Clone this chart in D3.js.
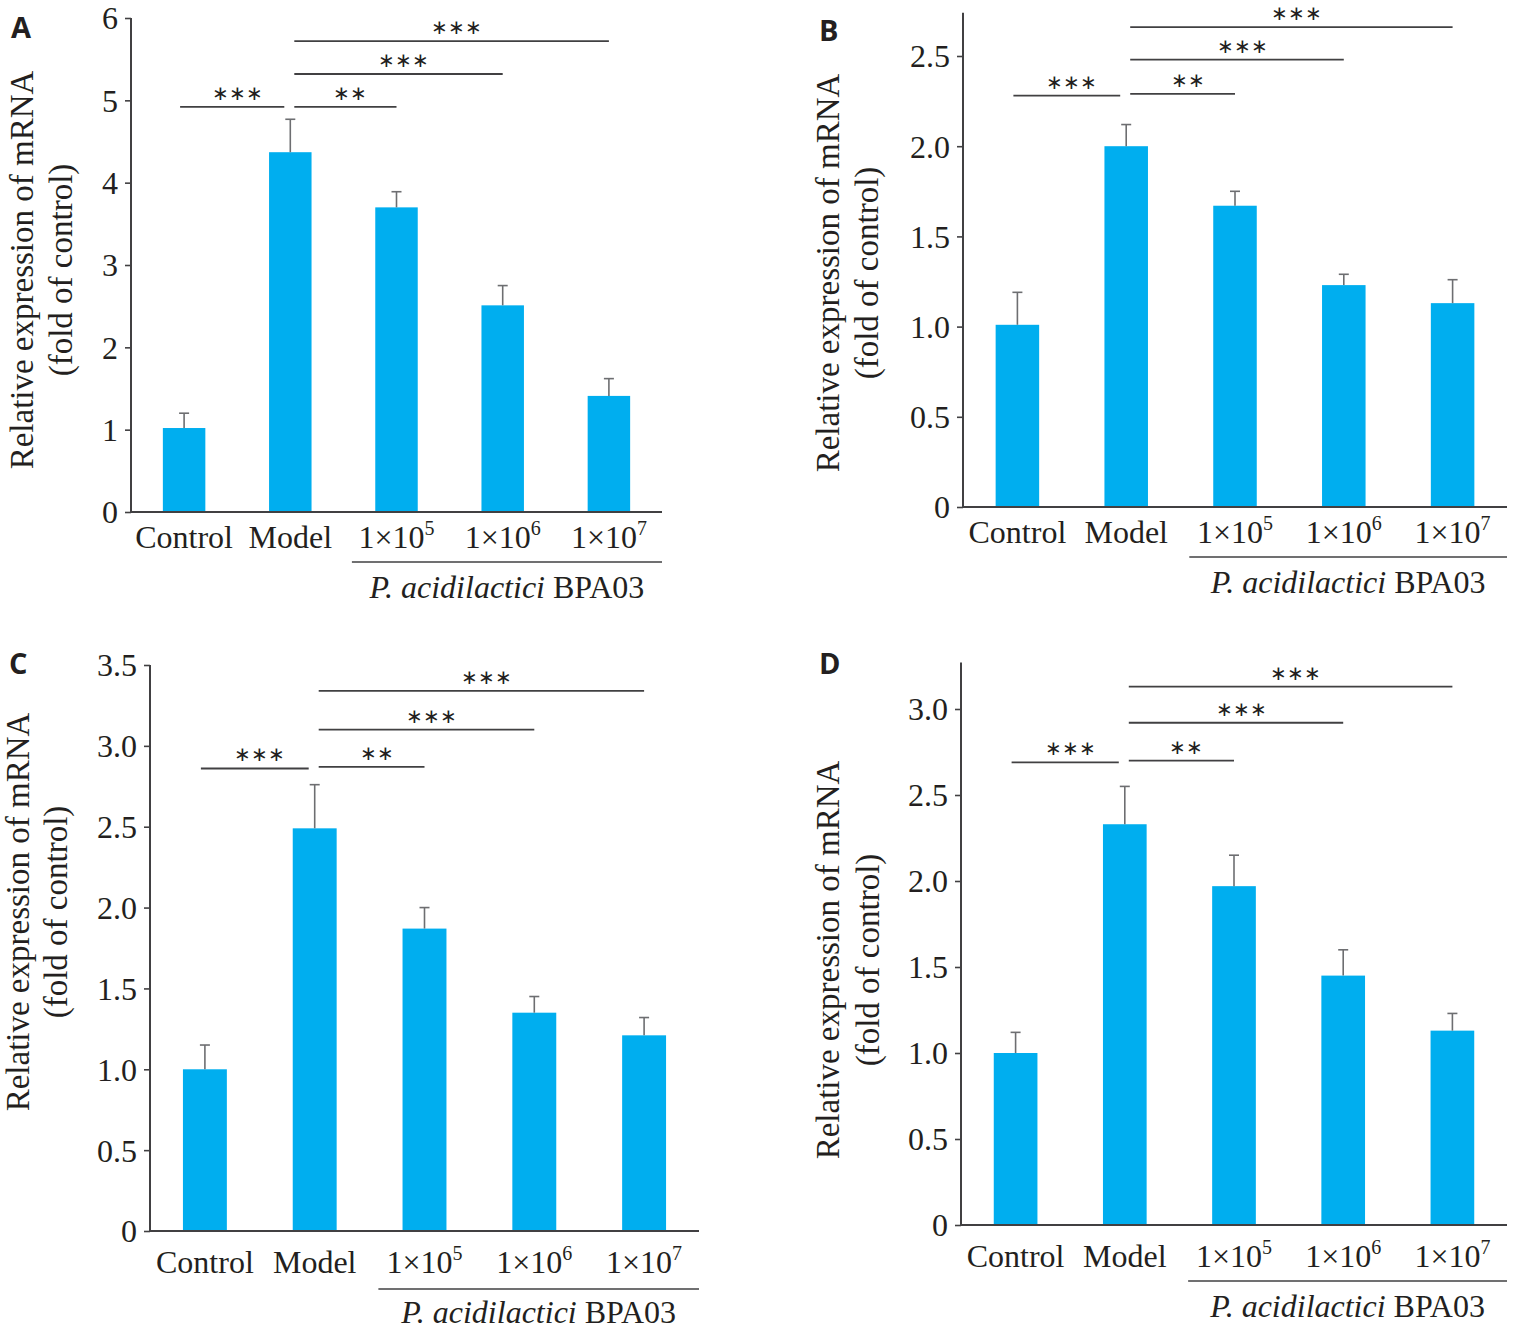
<!DOCTYPE html>
<html>
<head>
<meta charset="utf-8">
<script src="https://cdn.jsdelivr.net/npm/d3@7"></script>
<style>
  body { margin: 0; background: #fff; }
  svg text { font-family: "Liberation Serif", "Times New Roman", serif; fill: #231f20; }
</style>
</head>
<body>
<div id="fig"></div>
<script>
// categories on the x axis (base text + superscript exponent)
var catBase = ["Control", "Model", "1×10", "1×10", "1×10"];
var catExp  = ["", "", "5", "6", "7"];
var groupLabel = "BPA03";
var groupItalic = "P. acidilactici";

// bar means and SD
var meansA = [1.02, 4.37, 3.70, 2.51, 1.41];
var errA   = [0.18, 0.40, 0.19, 0.24, 0.21];
var meansB = [1.01, 2.00, 1.67, 1.23, 1.13];
var errB   = [0.18, 0.12, 0.08, 0.06, 0.13];
var meansC = [1.00, 2.49, 1.87, 1.35, 1.21];
var errC   = [0.15, 0.27, 0.13, 0.10, 0.11];
var meansD = [1.00, 2.33, 1.97, 1.45, 1.13];
var errD   = [0.12, 0.22, 0.18, 0.15, 0.10];

// y ticks
var ticksA = [0, 1, 2, 3, 4, 5, 6];
var ticksB = [0, 0.5, 1.0, 1.5, 2.0, 2.5];
var ticksC = [0, 0.5, 1.0, 1.5, 2.0, 2.5, 3.0, 3.5];
var ticksD = [0, 0.5, 1.0, 1.5, 2.0, 2.5, 3.0];

// significance brackets: [from, to, stars, height]
var sigA = [[0, 1, "***", 4.92], [1, 2, "**", 4.92], [1, 3, "***", 5.32], [1, 4, "***", 5.72]];
var sigB = [[0, 1, "***", 2.28], [1, 2, "**", 2.29], [1, 3, "***", 2.48], [1, 4, "***", 2.66]];
var sigC = [[0, 1, "***", 2.86], [1, 2, "**", 2.87], [1, 3, "***", 3.10], [1, 4, "***", 3.34]];
var sigD = [[0, 1, "***", 2.69], [1, 2, "**", 2.70], [1, 3, "***", 2.92], [1, 4, "***", 3.13]];

var yTitle1 = "Relative expression of mRNA";
var yTitle2 = "(fold of control)";

// panel placement
var panels = [
  {id: "A", means: meansA, err: errA, ticks: ticksA, sig: sigA, fmt: d3.format("d"),
   x0: 131, x1: 662, y0: 512, yMaxPx: 18, yMax: 6, axisTop: 6,
   lab: [11, 38], labDy: 36, lineDy: 50, grpDy: 86, t1x: 33, t2x: 72, tcy: 270},
  {id: "B", means: meansB, err: errB, ticks: ticksB, sig: sigB, fmt: d3.format(".1f"),
   x0: 963, x1: 1507, y0: 507, yMaxPx: 56, yMax: 2.5, axisTop: 2.74,
   lab: [819, 41], labDy: 36, lineDy: 50, grpDy: 86, t1x: 839, t2x: 878, tcy: 273},
  {id: "C", means: meansC, err: errC, ticks: ticksC, sig: sigC, fmt: d3.format(".1f"),
   x0: 150, x1: 699, y0: 1231, yMaxPx: 665, yMax: 3.5, axisTop: 3.5,
   lab: [9, 674], labDy: 42, lineDy: 58, grpDy: 92, t1x: 29, t2x: 67, tcy: 912},
  {id: "D", means: meansD, err: errD, ticks: ticksD, sig: sigD, fmt: d3.format(".1f"),
   x0: 961, x1: 1507, y0: 1225, yMaxPx: 709, yMax: 3.0, axisTop: 3.27,
   lab: [819, 674], labDy: 42, lineDy: 56, grpDy: 92, t1x: 839, t2x: 879, tcy: 960}
];

var svg = d3.select("#fig").append("svg")
  .attr("width", 1518).attr("height", 1330);

panels.forEach(function(p) {
  var g = svg.append("g");
  var idx = d3.range(catBase.length);

  var x = d3.scaleBand().domain(idx).range([p.x0, p.x1])
    .paddingInner(0.6).paddingOuter(0.3);
  var y = d3.scaleLinear().domain([0, p.yMax]).range([p.y0, p.yMaxPx]);
  var cx = function(i) { return x(i) + x.bandwidth() / 2; };

  // bars
  g.selectAll(".bar").data(p.means).enter().append("rect")
    .attr("x", function(d, i) { return x(i); })
    .attr("y", function(d) { return y(d); })
    .attr("width", x.bandwidth())
    .attr("height", function(d) { return y(0) - y(d); })
    .attr("fill", "#00aeef");

  // error bars (upper only)
  p.means.forEach(function(m, i) {
    var top = y(m + p.err[i]);
    g.append("line").attr("x1", cx(i)).attr("x2", cx(i))
      .attr("y1", y(m)).attr("y2", top)
      .attr("stroke", "#6d6e71").attr("stroke-width", 1.6);
    g.append("line").attr("x1", cx(i) - 5).attr("x2", cx(i) + 5)
      .attr("y1", top).attr("y2", top)
      .attr("stroke", "#6d6e71").attr("stroke-width", 1.6);
  });

  // y axis
  var yAxis = d3.axisLeft(y).tickValues(p.ticks).tickSize(6).tickPadding(7)
    .tickFormat(function(d) { return d === 0 ? "0" : p.fmt(d); });
  var ya = g.append("g").attr("transform", "translate(" + p.x0 + ",0)").call(yAxis);
  ya.select(".domain").remove();
  ya.selectAll(".tick line").attr("stroke", "#414042").attr("stroke-width", 1.6);
  ya.selectAll(".tick text").attr("font-size", 32).attr("font-family", "Liberation Serif")
    .attr("fill", "#231f20").attr("dy", "0.34em");
  g.append("line").attr("x1", p.x0).attr("x2", p.x0)
    .attr("y1", y(0)).attr("y2", y(p.axisTop))
    .attr("stroke", "#414042").attr("stroke-width", 2);
  // x axis baseline
  g.append("line").attr("x1", p.x0).attr("x2", p.x1)
    .attr("y1", y(0)).attr("y2", y(0))
    .attr("stroke", "#414042").attr("stroke-width", 2);

  // category labels
  idx.forEach(function(i) {
    var t = g.append("text").attr("x", cx(i)).attr("y", p.y0 + p.labDy)
      .attr("text-anchor", "middle").attr("font-size", 32);
    t.append("tspan").text(catBase[i]);
    if (catExp[i]) {
      t.append("tspan").attr("dy", -13).attr("font-size", 20).text(catExp[i]);
    }
  });

  // group underline and label
  var gx0 = x(2) - x.bandwidth() * 0.55;
  g.append("line").attr("x1", gx0).attr("x2", p.x1)
    .attr("y1", p.y0 + p.lineDy).attr("y2", p.y0 + p.lineDy)
    .attr("stroke", "#414042").attr("stroke-width", 1.6);
  var gt = g.append("text").attr("x", (gx0 + p.x1) / 2).attr("y", p.y0 + p.grpDy)
    .attr("text-anchor", "middle").attr("font-size", 32);
  gt.append("tspan").attr("font-style", "italic").text(groupItalic);
  gt.append("tspan").text(" " + groupLabel);

  // significance brackets
  p.sig.forEach(function(s) {
    var xa = s[0] === 0 ? cx(s[0]) - 4 : cx(s[0]) + 4;
    var xb = s[0] === 0 ? cx(s[1]) - 6 : cx(s[1]);
    var yy = y(s[3]);
    g.append("line").attr("x1", xa).attr("x2", xb).attr("y1", yy).attr("y2", yy)
      .attr("stroke", "#414042").attr("stroke-width", 1.8);
    g.append("text").attr("x", (xa + xb) / 2 + 5).attr("y", yy - 7)
      .attr("text-anchor", "middle").attr("font-size", 20)
      .text(s[2].replace(/\*/g, "\u2217"));
  });

  // y axis title
  g.append("text").attr("transform", "translate(" + p.t1x + "," + p.tcy + ") rotate(-90)")
    .attr("text-anchor", "middle").attr("font-size", 33).text(yTitle1);
  g.append("text").attr("transform", "translate(" + p.t2x + "," + p.tcy + ") rotate(-90)")
    .attr("text-anchor", "middle").attr("font-size", 33).text(yTitle2);

  // panel letter
  g.append("text").attr("x", p.lab[0]).attr("y", p.lab[1])
    .attr("font-weight", "bold").attr("font-size", 29)
    .style("font-family", "'Open Sans', sans-serif")
    .text(p.id);
});
</script>
</body>
</html>
